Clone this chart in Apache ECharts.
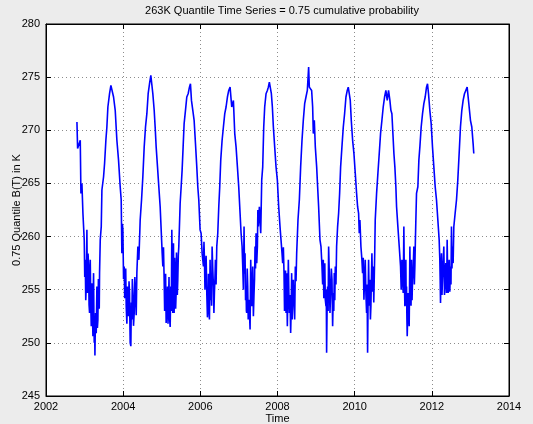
<!DOCTYPE html>
<html>
<head>
<meta charset="utf-8">
<script src="https://cdn.jsdelivr.net/npm/echarts@6/dist/echarts.min.js"></script>
<style>
  html, body { margin: 0; padding: 0; background: #ececec; }
  #chart { width: 533px; height: 424px; }
</style>
</head>
<body>
<div id="chart"></div>
<script>
// 0.75 quantile of B(T) (K), sampled as [decimal year, kelvin]
const quantile2002to2004 = [
  [2002.802, 270.78], [2002.819, 268.28], [2002.888, 269.06], [2002.905, 264.06], [2002.931, 265.0],
  [2002.957, 262.19], [2002.991, 259.69], [2003.004, 256.2], [2003.017, 257.81], [2003.030, 254.0],
  [2003.043, 255.31], [2003.060, 260.63], [2003.070, 256.0], [2003.078, 254.69], [2003.090, 258.4],
  [2003.104, 257.19], [2003.116, 253.6], [2003.129, 252.81], [2003.138, 256.5], [2003.147, 257.81],
  [2003.160, 253.8], [2003.173, 251.56], [2003.186, 255.6], [2003.199, 254.06], [2003.208, 252.0],
  [2003.216, 250.63], [2003.225, 254.8], [2003.233, 256.56], [2003.242, 252.4], [2003.250, 250.0],
  [2003.259, 252.2], [2003.268, 248.81], [2003.276, 251.0], [2003.285, 252.81], [2003.302, 250.9],
  [2003.319, 255.31], [2003.332, 251.4], [2003.345, 252.19], [2003.358, 256.0], [2003.371, 255.0],
  [2003.380, 253.2], [2003.388, 256.56], [2003.406, 259.69], [2003.432, 260.94], [2003.449, 264.38],
  [2003.492, 265.63], [2003.518, 266.88], [2003.552, 269.06], [2003.578, 270.31], [2003.604, 272.19],
  [2003.647, 273.44], [2003.682, 274.22], [2003.716, 274.06], [2003.751, 273.13], [2003.794, 271.88],
  [2003.837, 269.06], [2003.880, 267.19], [2003.923, 264.69], [2003.949, 263.44], [2003.966, 258.44],
  [2003.980, 261.2], [2003.992, 260.63], [2004.010, 256.0], [2004.027, 257.19], [2004.040, 254.2],
  [2004.053, 255.31], [2004.066, 257.0], [2004.079, 253.44], [2004.096, 251.8], [2004.113, 255.31],
  [2004.126, 253.0], [2004.139, 252.5], [2004.152, 255.8], [2004.165, 254.69], [2004.174, 252.0],
  [2004.182, 250.0], [2004.199, 249.69], [2004.212, 253.8], [2004.225, 252.19], [2004.238, 256.0],
  [2004.251, 254.69], [2004.268, 251.6], [2004.286, 252.81], [2004.303, 256.2], [2004.320, 254.69],
  [2004.338, 252.6], [2004.355, 256.56], [2004.381, 259.06], [2004.407, 257.81], [2004.441, 261.56],
  [2004.476, 263.44], [2004.510, 265.63], [2004.545, 268.44], [2004.579, 270.31], [2004.614, 271.56],
  [2004.648, 273.44], [2004.683, 274.38], [2004.717, 275.16]
];

const quantile2004to2006 = [
  [2004.769, 273.44], [2004.804, 271.88], [2004.829, 270.31], [2004.855, 268.44], [2004.890, 266.56],
  [2004.924, 264.69], [2004.959, 262.81], [2004.985, 260.63], [2005.011, 258.44], [2005.028, 257.19],
  [2005.045, 259.0], [2005.062, 255.94], [2005.075, 253.0], [2005.088, 254.69], [2005.100, 256.5],
  [2005.114, 251.88], [2005.131, 253.5], [2005.149, 255.31], [2005.162, 251.8], [2005.175, 253.44],
  [2005.188, 256.2], [2005.200, 252.5], [2005.218, 251.5], [2005.235, 255.31], [2005.248, 253.0],
  [2005.261, 260.63], [2005.274, 256.0], [2005.287, 252.81], [2005.296, 255.5], [2005.304, 259.38],
  [2005.312, 254.5], [2005.321, 252.81], [2005.334, 258.0], [2005.347, 256.56], [2005.360, 253.2],
  [2005.373, 254.69], [2005.382, 258.5], [2005.390, 257.19], [2005.403, 254.5], [2005.416, 255.94],
  [2005.429, 258.2], [2005.442, 259.06], [2005.477, 263.13], [2005.503, 264.69], [2005.528, 266.25],
  [2005.554, 268.44], [2005.580, 270.63], [2005.615, 271.88], [2005.649, 273.13], [2005.684, 273.44],
  [2005.718, 274.06], [2005.744, 274.38], [2005.770, 272.81], [2005.805, 271.88], [2005.839, 270.94],
  [2005.874, 268.75], [2005.908, 266.56], [2005.934, 264.69], [2005.960, 263.44], [2005.994, 260.63],
  [2006.020, 260.31], [2006.046, 258.44], [2006.081, 257.19], [2006.094, 259.5], [2006.107, 257.81],
  [2006.120, 255.0], [2006.132, 256.25], [2006.150, 258.2], [2006.167, 254.69], [2006.184, 252.4],
  [2006.201, 253.44], [2006.210, 256.5], [2006.219, 254.06], [2006.236, 252.2], [2006.253, 257.81],
  [2006.266, 254.0], [2006.279, 256.56], [2006.292, 253.5], [2006.305, 259.06], [2006.322, 257.0],
  [2006.340, 255.31], [2006.352, 252.8], [2006.365, 254.69], [2006.378, 256.0], [2006.391, 257.81],
  [2006.408, 255.5], [2006.426, 259.06], [2006.452, 260.31], [2006.478, 262.81], [2006.503, 264.69],
  [2006.529, 267.19], [2006.564, 269.06], [2006.598, 270.31], [2006.633, 271.56], [2006.667, 272.19],
  [2006.702, 273.13], [2006.736, 273.75]
];

const quantile2006to2008 = [
  [2006.771, 274.06], [2006.814, 272.19], [2006.857, 272.81], [2006.892, 269.69], [2006.926, 268.44],
  [2006.961, 266.56], [2006.995, 264.69], [2007.030, 262.19], [2007.056, 260.31], [2007.082, 259.06],
  [2007.099, 257.19], [2007.116, 255.0], [2007.133, 260.94], [2007.146, 256.5], [2007.159, 258.44],
  [2007.172, 254.0], [2007.185, 255.31], [2007.194, 253.0], [2007.202, 252.81], [2007.215, 257.0],
  [2007.228, 255.31], [2007.241, 252.2], [2007.254, 254.06], [2007.272, 253.0], [2007.289, 251.25],
  [2007.298, 254.5], [2007.306, 257.81], [2007.319, 255.0], [2007.332, 253.44], [2007.345, 255.5],
  [2007.358, 257.19], [2007.375, 252.5], [2007.392, 254.69], [2007.405, 256.0], [2007.418, 259.06],
  [2007.431, 257.0], [2007.444, 260.31], [2007.462, 257.5], [2007.479, 259.06], [2007.491, 262.5],
  [2007.504, 260.94], [2007.530, 262.81], [2007.565, 260.31], [2007.591, 265.31], [2007.617, 266.56],
  [2007.643, 270.31], [2007.668, 272.19], [2007.703, 273.44], [2007.737, 273.75], [2007.763, 274.06],
  [2007.789, 274.53], [2007.815, 274.69], [2007.841, 273.44], [2007.867, 272.19], [2007.893, 270.31],
  [2007.927, 268.44], [2007.962, 266.56], [2007.996, 265.31], [2008.031, 262.81], [2008.065, 260.94],
  [2008.091, 259.69], [2008.117, 258.44], [2008.134, 257.5], [2008.152, 259.0], [2008.169, 256.56],
  [2008.182, 253.0], [2008.195, 254.69], [2008.208, 256.8], [2008.221, 252.81], [2008.238, 256.56],
  [2008.246, 253.8], [2008.255, 251.56], [2008.268, 254.5], [2008.281, 257.81], [2008.294, 254.8],
  [2008.307, 252.81], [2008.324, 254.5], [2008.341, 250.94], [2008.354, 253.0], [2008.367, 256.56],
  [2008.380, 252.2], [2008.393, 254.69], [2008.410, 255.94], [2008.428, 253.5], [2008.445, 252.19],
  [2008.462, 257.19], [2008.480, 255.8], [2008.497, 258.44], [2008.531, 261.56], [2008.566, 263.44],
  [2008.600, 266.56], [2008.635, 269.06], [2008.669, 270.94], [2008.704, 272.5], [2008.738, 273.13],
  [2008.773, 273.75], [2008.807, 275.94], [2008.825, 274.06]
];

const quantile2008to2010 = [
  [2008.885, 273.75], [2008.911, 272.19], [2008.928, 269.69], [2008.954, 270.94], [2008.980, 268.44],
  [2009.015, 266.56], [2009.040, 264.69], [2009.066, 262.81], [2009.101, 259.69], [2009.127, 259.06],
  [2009.153, 257.19], [2009.170, 255.5], [2009.187, 257.81], [2009.200, 254.2], [2009.213, 255.31],
  [2009.226, 257.5], [2009.239, 254.06], [2009.256, 253.44], [2009.264, 255.0], [2009.273, 249.06],
  [2009.286, 253.5], [2009.299, 255.31], [2009.312, 253.0], [2009.325, 259.06], [2009.342, 256.56],
  [2009.360, 252.8], [2009.377, 254.69], [2009.395, 257.0], [2009.412, 255.94], [2009.429, 251.56],
  [2009.446, 254.69], [2009.459, 253.0], [2009.472, 256.56], [2009.485, 254.0], [2009.498, 257.19],
  [2009.515, 255.5], [2009.532, 259.06], [2009.558, 260.94], [2009.584, 262.19], [2009.610, 264.06],
  [2009.636, 266.56], [2009.670, 268.44], [2009.705, 270.31], [2009.739, 271.56], [2009.774, 273.13],
  [2009.808, 273.75], [2009.834, 274.06], [2009.860, 273.44], [2009.886, 272.81], [2009.912, 270.94],
  [2009.947, 269.06], [2009.981, 267.81], [2010.016, 265.94], [2010.050, 264.06], [2010.076, 262.81],
  [2010.102, 262.19], [2010.119, 260.31], [2010.136, 261.56], [2010.162, 259.06], [2010.188, 257.81],
  [2010.205, 256.56], [2010.222, 258.0], [2010.240, 254.06], [2010.257, 256.0], [2010.274, 257.81],
  [2010.292, 254.5], [2010.309, 252.81], [2010.322, 255.5], [2010.335, 249.06], [2010.348, 254.0],
  [2010.361, 257.81], [2010.378, 253.5], [2010.395, 255.94], [2010.408, 252.2], [2010.421, 253.44],
  [2010.434, 256.0], [2010.447, 258.44], [2010.465, 254.8], [2010.482, 257.19], [2010.495, 253.8],
  [2010.507, 255.94], [2010.520, 258.5], [2010.533, 261.56], [2010.568, 264.06], [2010.602, 265.94],
  [2010.637, 267.81], [2010.671, 269.69], [2010.706, 270.94], [2010.740, 272.19], [2010.775, 273.13],
  [2010.809, 273.75], [2010.844, 272.81], [2010.878, 273.75]
];

const quantile2010to2013 = [
  [2010.913, 272.81], [2010.939, 271.88], [2010.965, 271.56], [2010.991, 269.69], [2011.017, 267.81],
  [2011.042, 266.56], [2011.068, 264.69], [2011.086, 262.81], [2011.120, 260.94], [2011.155, 259.06],
  [2011.189, 257.19], [2011.206, 255.0], [2011.224, 257.81], [2011.241, 256.0], [2011.258, 254.69],
  [2011.275, 260.94], [2011.288, 256.0], [2011.301, 253.44], [2011.314, 255.5], [2011.327, 257.81],
  [2011.336, 253.5], [2011.344, 255.31], [2011.353, 252.5], [2011.362, 250.63], [2011.375, 252.8],
  [2011.388, 254.69], [2011.400, 253.0], [2011.413, 251.56], [2011.422, 255.0], [2011.431, 259.06],
  [2011.440, 256.5], [2011.448, 255.31], [2011.461, 253.5], [2011.474, 257.81], [2011.487, 254.0],
  [2011.500, 255.94], [2011.517, 257.0], [2011.534, 259.06], [2011.547, 255.5], [2011.560, 257.19],
  [2011.573, 259.5], [2011.586, 261.56], [2011.603, 264.06], [2011.638, 264.69], [2011.664, 267.19],
  [2011.690, 268.44], [2011.724, 270.31], [2011.759, 271.56], [2011.793, 272.5], [2011.828, 273.13],
  [2011.862, 274.06], [2011.888, 274.38], [2011.914, 273.44], [2011.948, 271.88], [2011.983, 270.63],
  [2012.017, 268.44], [2012.052, 266.56], [2012.087, 264.69], [2012.121, 263.44], [2012.156, 261.56],
  [2012.190, 259.69], [2012.207, 257.81], [2012.216, 256.0], [2012.225, 253.75], [2012.238, 256.5],
  [2012.250, 258.44], [2012.263, 254.5], [2012.276, 255.94], [2012.293, 257.5], [2012.311, 259.06],
  [2012.328, 254.5], [2012.345, 255.94], [2012.362, 257.5], [2012.380, 254.69], [2012.388, 256.0],
  [2012.397, 259.69], [2012.410, 256.5], [2012.423, 254.69], [2012.436, 256.0], [2012.449, 257.81],
  [2012.466, 254.8], [2012.483, 257.19], [2012.496, 255.5], [2012.509, 260.94], [2012.522, 257.0],
  [2012.535, 259.06], [2012.552, 257.5], [2012.570, 260.94], [2012.604, 262.19], [2012.639, 263.44],
  [2012.673, 265.31], [2012.708, 267.81], [2012.742, 270.31], [2012.777, 271.88], [2012.811, 272.81],
  [2012.846, 273.44], [2012.880, 273.75], [2012.915, 274.06], [2012.941, 273.13], [2012.967, 272.19],
  [2013.001, 270.94], [2013.036, 270.31], [2013.070, 268.75], [2013.087, 267.81]
];

// Axis ranges and labels
const xRange = [2002, 2014];
const xStep = 2;
const yRange = [245, 280];
const yStep = 5;
const chartTitle = '263K Quantile Time Series = 0.75 cumulative probability';
const xName = 'Time';
const yName = '0.75 Quantile B(T) in K';

const series = [].concat(
  quantile2002to2004, quantile2004to2006, quantile2006to2008,
  quantile2008to2010, quantile2010to2013
);

const font = 'Liberation Sans, Arial, Helvetica, sans-serif';
const tickInside = { show: true, inside: true, length: 5, lineStyle: { color: '#000', width: 1 } };
const dotted = { show: true, lineStyle: { color: '#8c8c8c', type: [1, 3], width: 1 } };

const chart = echarts.init(document.getElementById('chart'), null, { renderer: 'canvas' });
chart.setOption({
  animation: false,
  backgroundColor: '#ececec',
  title: {
    text: chartTitle,
    left: 277, top: 0, textAlign: 'center',
    textStyle: { fontFamily: font, fontSize: 11, fontWeight: 'normal', color: '#000' }
  },
  grid: {
    left: 46, right: 24, top: 24, bottom: 28,
    containLabel: false, outerBoundsMode: 'none',
    show: true, backgroundColor: '#fff', borderColor: '#000', borderWidth: 1
  },
  xAxis: [{
    type: 'value', min: xRange[0], max: xRange[1], interval: xStep,
    name: xName, nameLocation: 'middle', nameGap: 17, nameMoveOverlap: false,
    nameTextStyle: { fontFamily: font, fontSize: 11, color: '#000' },
    axisLine: { show: true, lineStyle: { color: '#000' } },
    axisTick: tickInside,
    axisLabel: { fontFamily: font, fontSize: 11, color: '#000', margin: 5, formatter: v => String(v) },
    splitLine: dotted
  }, {
    type: 'value', min: xRange[0], max: xRange[1], interval: xStep, position: 'top',
    axisLine: { show: true, lineStyle: { color: '#000' } },
    axisTick: tickInside, axisLabel: { show: false }, splitLine: { show: false }
  }],
  yAxis: [{
    type: 'value', min: yRange[0], max: yRange[1], interval: yStep,
    name: yName, nameLocation: 'middle', nameGap: 24, nameMoveOverlap: false,
    nameTextStyle: { fontFamily: font, fontSize: 11, color: '#000' },
    axisLine: { show: true, lineStyle: { color: '#000' } },
    axisTick: tickInside,
    axisLabel: { fontFamily: font, fontSize: 11, color: '#000', margin: 6 },
    splitLine: dotted
  }, {
    type: 'value', min: yRange[0], max: yRange[1], interval: yStep, position: 'right',
    axisLine: { show: true, lineStyle: { color: '#000' } },
    axisTick: tickInside, axisLabel: { show: false }, splitLine: { show: false }
  }],
  series: [{
    type: 'line',
    data: series,
    showSymbol: false,
    smooth: false,
    lineStyle: { color: '#0000ff', width: 1.6 },
    itemStyle: { color: '#0000ff' }
  }]
});
</script>
</body>
</html>
